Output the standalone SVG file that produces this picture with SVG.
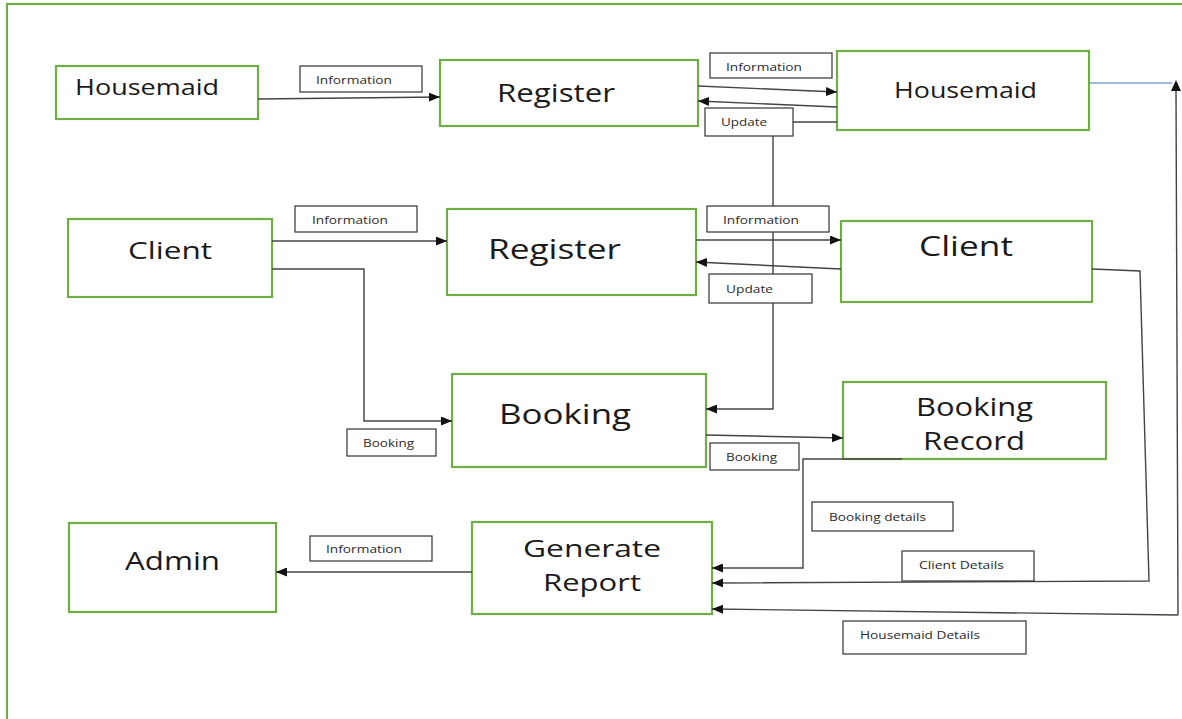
<svg xmlns="http://www.w3.org/2000/svg" width="1182" height="719" viewBox="0 0 1182 719">
<defs>
<marker id="arr" viewBox="0 0 11 9" refX="11" refY="4.5" markerWidth="11" markerHeight="9" markerUnits="userSpaceOnUse" orient="auto">
<path d="M0,0 L11,4.5 L0,9 z" fill="#111"/>
</marker>
<style>
.node{fill:#fff;stroke:#70AD47;stroke-width:2.2}
.frame{fill:none;stroke:#70AD47;stroke-width:2.2}
.big{font-family:"Open Sans","Liberation Sans",sans-serif;fill:#1a1a1a;text-anchor:start}
.lab{fill:#fff;stroke:#333;stroke-width:1.2}
.small{font-family:"Open Sans","Liberation Sans",sans-serif;font-size:11px;fill:#2a2a2a}
.con{fill:none;stroke:#444;stroke-width:1.4}
</style>
</defs>
<rect width="1182" height="719" fill="#fff"/>
<rect class="frame" x="7" y="4" width="1200" height="800"/>

<g id="node-housemaid1"><rect class="node" x="56" y="66" width="202" height="53"/><text class="big" x="75" y="95" font-size="22" textLength="144" lengthAdjust="spacingAndGlyphs">Housemaid</text></g>
<g id="node-register1"><rect class="node" x="440" y="60" width="258" height="66"/><text class="big" x="497" y="102" font-size="25" textLength="118" lengthAdjust="spacingAndGlyphs">Register</text></g>
<g id="node-housemaid2"><rect class="node" x="837" y="51" width="252" height="79"/><text class="big" x="894" y="98" font-size="21" textLength="143" lengthAdjust="spacingAndGlyphs">Housemaid</text></g>
<g id="node-client1"><rect class="node" x="68" y="219" width="204" height="78"/><text class="big" x="128" y="259" font-size="24" textLength="84" lengthAdjust="spacingAndGlyphs">Client</text></g>
<g id="node-register2"><rect class="node" x="447" y="209" width="249" height="86"/><text class="big" x="488" y="259" font-size="28" textLength="133" lengthAdjust="spacingAndGlyphs">Register</text></g>
<g id="node-client2"><rect class="node" x="841" y="221" width="251" height="81"/><text class="big" x="919" y="256" font-size="27" textLength="94" lengthAdjust="spacingAndGlyphs">Client</text></g>
<g id="node-booking"><rect class="node" x="452" y="374" width="254" height="93"/><text class="big" x="499" y="424" font-size="28" textLength="132" lengthAdjust="spacingAndGlyphs">Booking</text></g>
<g id="node-bookingrecord"><rect class="node" x="843" y="382" width="263" height="77"/><text class="big" x="916" y="416" font-size="25" textLength="117" lengthAdjust="spacingAndGlyphs">Booking</text><text class="big" x="923" y="450" font-size="25" textLength="102" lengthAdjust="spacingAndGlyphs">Record</text></g>
<g id="node-admin"><rect class="node" x="69" y="523" width="207" height="89"/><text class="big" x="125" y="570" font-size="25" textLength="95" lengthAdjust="spacingAndGlyphs">Admin</text></g>
<g id="node-generatereport"><rect class="node" x="472" y="522" width="240" height="92"/><text class="big" x="523" y="557" font-size="24" textLength="138" lengthAdjust="spacingAndGlyphs">Generate</text><text class="big" x="543" y="591" font-size="24" textLength="98" lengthAdjust="spacingAndGlyphs">Report</text></g>

<g id="connectors">
<line class="con" x1="258" y1="99" x2="440" y2="97" marker-end="url(#arr)"/>
<line class="con" x1="698" y1="86" x2="837" y2="92" marker-end="url(#arr)"/>
<line class="con" x1="837" y1="107" x2="698" y2="101" marker-end="url(#arr)"/>
<path class="con" d="M837,122 L773,122 L773,409 L706,409" marker-end="url(#arr)"/>
<line class="con" x1="272" y1="241" x2="447" y2="241" marker-end="url(#arr)"/>
<line class="con" x1="696" y1="240" x2="841" y2="240" marker-end="url(#arr)"/>
<line class="con" x1="841" y1="269" x2="696" y2="262" marker-end="url(#arr)"/>
<path class="con" d="M272,269 L364,269 L364,421 L452,421" marker-end="url(#arr)"/>
<line class="con" x1="706" y1="435" x2="843" y2="438" marker-end="url(#arr)"/>
<path class="con" d="M902,459 L803,459 L803,568 L712,568" marker-end="url(#arr)"/>
<path class="con" d="M1092,269 L1140,271 L1149,581 L712,583" marker-end="url(#arr)"/>
<line x1="1089" y1="83" x2="1172" y2="83" stroke="#4472C4" stroke-width="1.2"/>
<line class="con" x1="1178" y1="615" x2="1176" y2="90"/>
<polygon points="1176,80 1171,91 1181,91" fill="#111"/>
<line class="con" x1="1178" y1="615" x2="712" y2="609" marker-end="url(#arr)"/>
<line class="con" x1="472" y1="572" x2="276" y2="572" marker-end="url(#arr)"/>
</g>

<g id="labels">
<rect class="lab" x="300" y="66" width="122" height="26"/><text class="small" x="316" y="84" textLength="76" lengthAdjust="spacingAndGlyphs">Information</text>
<rect class="lab" x="710" y="53" width="122" height="25"/><text class="small" x="726" y="71" textLength="76" lengthAdjust="spacingAndGlyphs">Information</text>
<rect class="lab" x="705" y="108" width="88" height="28"/><text class="small" x="721" y="126" textLength="46" lengthAdjust="spacingAndGlyphs">Update</text>
<rect class="lab" x="295" y="206" width="122" height="26"/><text class="small" x="312" y="224" textLength="76" lengthAdjust="spacingAndGlyphs">Information</text>
<rect class="lab" x="707" y="206" width="122" height="26"/><text class="small" x="723" y="224" textLength="76" lengthAdjust="spacingAndGlyphs">Information</text>
<rect class="lab" x="709" y="274" width="103" height="29"/><text class="small" x="726" y="293" textLength="47" lengthAdjust="spacingAndGlyphs">Update</text>
<rect class="lab" x="347" y="429" width="89" height="27"/><text class="small" x="363" y="447" textLength="51" lengthAdjust="spacingAndGlyphs">Booking</text>
<rect class="lab" x="710" y="443" width="89" height="27"/><text class="small" x="726" y="461" textLength="51" lengthAdjust="spacingAndGlyphs">Booking</text>
<rect class="lab" x="812" y="502" width="141" height="29"/><text class="small" x="829" y="521" textLength="97" lengthAdjust="spacingAndGlyphs">Booking details</text>
<rect class="lab" x="902" y="551" width="132" height="30"/><text class="small" x="919" y="569" textLength="85" lengthAdjust="spacingAndGlyphs">Client Details</text>
<rect class="lab" x="843" y="621" width="183" height="33"/><text class="small" x="860" y="639" textLength="120" lengthAdjust="spacingAndGlyphs">Housemaid Details</text>
<rect class="lab" x="310" y="536" width="122" height="25"/><text class="small" x="326" y="553" textLength="76" lengthAdjust="spacingAndGlyphs">Information</text>
</g>
</svg>
